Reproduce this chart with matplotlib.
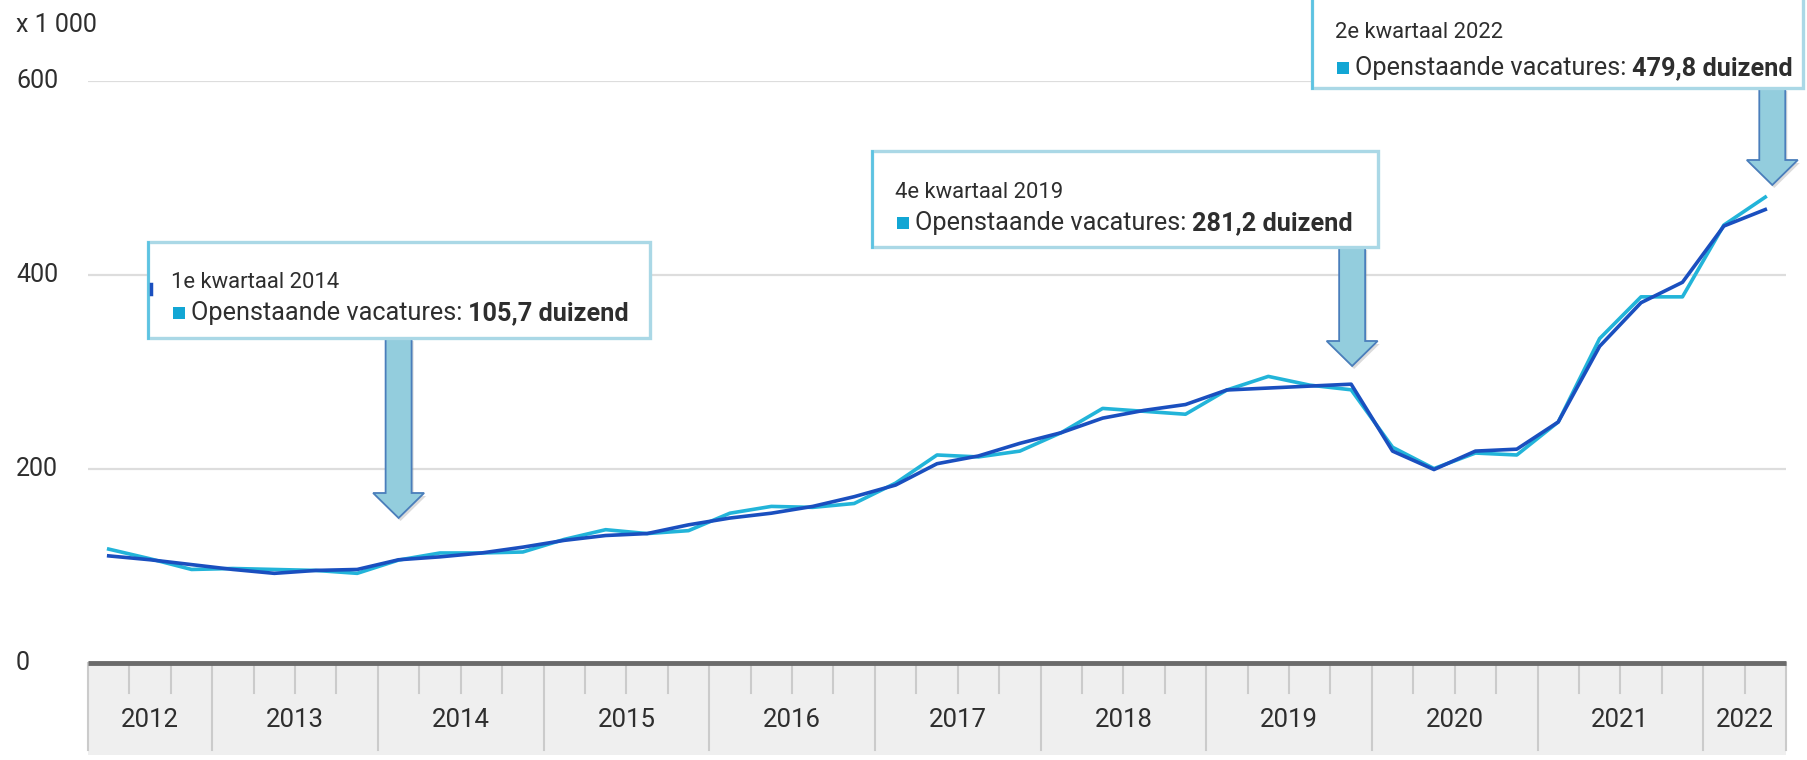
import matplotlib.pyplot as plt
from matplotlib.patches import Rectangle, Polygon
from matplotlib import transforms
import numpy as np

plt.rcParams['font.family'] = ['Roboto', 'DejaVu Sans']

W, H = 1807, 760

# Quarters: 2nd quarter 2012 up to 2nd quarter 2022
kwartalen = []
for jaar in range(2012, 2023):
  for k in range(1, 5):
    kwartalen.append((jaar, k))
kwartalen = kwartalen[1:-2]

# Open vacancies (x 1 000), not seasonally adjusted
openstaand = [117, 107, 96, 97, 96, 95, 92, 105.7, 113, 113, 114,
              127, 137, 133, 136, 154, 161, 160, 164, 185, 214, 212,
              218, 237, 262, 259, 256, 281, 295, 286, 281.2, 222, 200,
              216, 214, 248, 334, 377, 377, 451, 479.8]

# Open vacancies (x 1 000), seasonally adjusted
seizoen = [110, 106, 101, 96, 92, 95, 96, 106, 109, 113, 119,
           126, 131, 133, 142, 149, 154, 161, 171, 183, 205, 213,
           226, 237, 252, 260, 266, 281, 283, 285, 287, 218, 199,
           218, 220, 248, 326, 371, 392, 450, 467]

jaar_labels = ['2012', '2013', '2014', '2015', '2016', '2017',
               '2018', '2019', '2020', '2021', '2022']
y_ticks = [0, 200, 400, 600]

# Highlighted quarters: (title, quarter, value text)
annotaties = [
  ('1e kwartaal 2014', (2014, 1), '105,7 duizend'),
  ('4e kwartaal 2019', (2019, 4), '281,2 duizend'),
  ('2e kwartaal 2022', (2022, 2), '479,8 duizend'),
]

# Box layout in pixels: left, top, right, bottom, title y, line y, arrow tip y, arrow x nudge
box_layout = [
  (148, 242, 650, 338, 283, 313, 518, 0),
  (872, 151, 1378, 247, 192, 223, 366, 1),
  (1312, -10, 1803, 88, 33, 68, 185, 7),
]

cyan = '#22b4d9'
donker = '#1a4fbf'
tekst = '#2e2e2e'

def fx(px):
  return px / W

def fy(py):
  return 1 - py / H

fig = plt.figure(figsize=(W / 100, H / 100), dpi=100)

x_left, x_right = 88, 1786
y_zero, y_top = 662.6, 80.5
ax = fig.add_axes([fx(x_left), fy(y_zero), fx(x_right) - fx(x_left), (y_zero - y_top) / H])
ax.set_xlim(2012.25, 2022.5)
ax.set_ylim(0, 600)

x = [j + (k - 1) * 0.25 + 0.125 for j, k in kwartalen]

ax.plot(x, openstaand, color=cyan, lw=2.6, zorder=2, solid_joinstyle='round')
ax.plot(x, seizoen, color=donker, lw=2.6, zorder=3, solid_joinstyle='round')

# Gridlines
ax.set_yticks(y_ticks)
ax.yaxis.grid(True, color='#dddddd', lw=1.6)
ax.set_axisbelow(True)
ax.tick_params(left=False, labelleft=False, bottom=False, labelbottom=False)
for s in ax.spines.values():
  s.set_visible(False)

# Y labels, left aligned at the figure edge
trans = transforms.blended_transform_factory(fig.transFigure, ax.transData)
for t in y_ticks:
  ax.text(fx(16), t, str(t), transform=trans, ha='left', va='center',
          fontsize=18, color=tekst, clip_on=False)
fig.text(fx(16), fy(25), 'x 1 000', ha='left', va='center', fontsize=18, color=tekst)

# X axis band
y_band = 755
bx = fig.add_axes([fx(x_left), fy(y_band), fx(x_right) - fx(x_left), (y_band - y_zero) / H])
bx.set_xlim(2012.25, 2022.5)
bx.set_ylim(0, 1)
bx.set_facecolor('#efefef')
bx.set_xticks([])
bx.set_yticks([])
for s in bx.spines.values():
  s.set_visible(False)

band_h = y_band - y_zero
for b in np.arange(2012.25, 2022.51, 0.25):
  if b == int(b) or b in (2012.25, 2022.5):
    bx.plot([b, b], [1, 5 / band_h], color='#cbcbcb', lw=1.5, clip_on=False)
  else:
    bx.plot([b, b], [1, (y_band - 693) / band_h], color='#cbcbcb', lw=1.5, clip_on=False)
bx.plot([2012.25, 2022.5], [1, 1], color='#6b6b6b', lw=3.5, clip_on=False, solid_capstyle='butt')

for lab in jaar_labels:
  j = int(lab)
  mid = (max(j, 2012.25) + min(j + 1, 2022.5)) / 2
  bx.text(mid, (y_band - 720) / band_h, lab, ha='center', va='center',
          fontsize=18.5, color=tekst)

# Callout boxes with arrows
renderer = fig.canvas.get_renderer()
for (titel, kw, waarde), (l, t, r, b, ty1, ty2, tip_y, dx) in zip(annotaties, box_layout):
  i = kwartalen.index(kw)
  tip_x = ax.transData.transform((x[i], 0))[0] + dx

  # arrow
  shaft, head, head_len = 13, 25.5, 25
  pts = [(tip_x - shaft, b), (tip_x + shaft, b), (tip_x + shaft, tip_y - head_len),
         (tip_x + head, tip_y - head_len), (tip_x, tip_y), (tip_x - head, tip_y - head_len),
         (tip_x - shaft, tip_y - head_len)]
  shadow = [(fx(px + 2), fy(py + 3)) for px, py in pts]
  fig.add_artist(Polygon(shadow, closed=True, transform=fig.transFigure,
                         facecolor='#9a9a9a', edgecolor='none', alpha=0.35, zorder=4))
  fig.add_artist(Polygon([(fx(px), fy(py)) for px, py in pts], closed=True,
                         transform=fig.transFigure, facecolor='#93cddd',
                         edgecolor='#4a7ebb', lw=1.3, zorder=5))

  # box
  fig.add_artist(Rectangle((fx(l), fy(b)), fx(r) - fx(l), (b - t) / H,
                           transform=fig.transFigure, facecolor='white',
                           edgecolor='#aad8e6', lw=2.4, zorder=6))
  fig.add_artist(plt.Line2D([fx(l), fx(l)], [fy(b), fy(max(t, 0))], transform=fig.transFigure,
                            color='#5cc3e2', lw=2.0, zorder=7))

  fig.text(fx(l + 23), fy(ty1), titel, ha='left', va='center', fontsize=15.8,
           color=tekst, zorder=8)
  fig.add_artist(Rectangle((fx(l + 25), fy(ty2 + 6)), 12 / W, 12 / H,
                           transform=fig.transFigure, facecolor='#12a6d4',
                           edgecolor='none', zorder=8))
  t1 = fig.text(fx(l + 43), fy(ty2), 'Openstaande vacatures:', ha='left', va='center',
                fontsize=18.2, color=tekst, zorder=8)
  bb = t1.get_window_extent(renderer)
  fig.text((bb.x1 + 6) / W, fy(ty2), waarde, ha='left', va='center', fontsize=18.2,
           fontweight='bold', color=tekst, zorder=8)

# small dark mark on the left edge of the first box
fig.add_artist(plt.Line2D([fx(151), fx(151)], [fy(284), fy(294)], transform=fig.transFigure,
                          color=donker, lw=2.5, zorder=9))

fig.savefig('out.png', dpi=100)
